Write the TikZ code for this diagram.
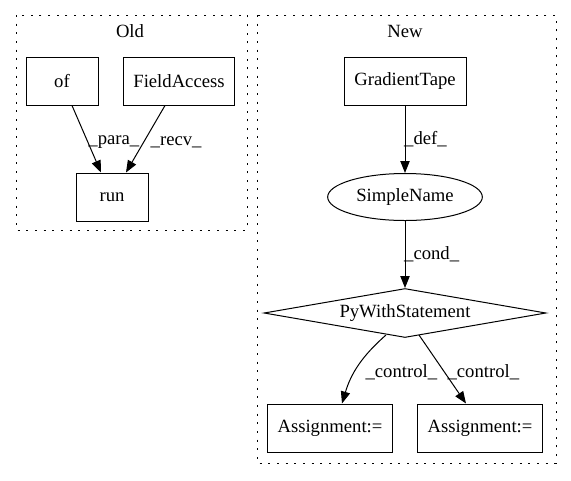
\documentclass[tikz,border=0pt]{standalone}
\usepackage{fontspec}
\setmainfont{Liberation Serif}
\usetikzlibrary{shapes.geometric,arrows.meta}
\begin{document}
\begin{tikzpicture}[x=0.75pt,y=-0.75pt,
  every node/.style={font=\fontsize{14}{16}\selectfont},
  box/.style={draw,line width=0.75pt,rectangle,minimum height=36pt,inner sep=0pt},
  ell/.style={draw,line width=0.75pt,ellipse,inner sep=0pt},
  dia/.style={draw,line width=0.75pt,diamond,inner sep=0pt},
  cluster/.style={draw,line width=0.75pt,dash pattern=on 1.5pt off 5pt},
  edge/.style={draw,line width=0.75pt,-{Triangle[length=9pt,width=7pt]}},
  lbl/.style={inner sep=1pt,anchor=west}]
\useasboundingbox (0,0) rectangle (571,480);
% clusters
\draw[cluster] (16,15) rectangle (247,230);
\node (oldlbl) at (130,31) {Old};
\draw[cluster] (257,15) rectangle (556,463);
\node (newlbl) at (405,31) {New};
% Old nodes
\node[box,minimum width=54pt] (of) at (62,81) {of};
\node[box,minimum width=83pt] (fa) at (179,81) {FieldAccess};
\node[box,minimum width=54pt] (run) at (112,197) {run};
\draw[edge] (of.south -| 72,0) -- (run.north -| 101,0) node[lbl,pos=0.55,xshift=-1pt] {\_para\_};
\draw[edge] (fa.south -| 165,0) -- (run.north -| 126,0) node[lbl,pos=0.55,xshift=4pt] {\_recv\_};
% New nodes
\node[box,minimum width=91.5pt] (gt) at (405,81) {GradientTape};
\node[ell,minimum width=116pt,minimum height=35.25pt] (sn) at (405,197) {SimpleName};
\node[dia,aspect=5.75,minimum width=211.5pt,minimum height=36.75pt] (pws) at (405,313) {PyWithStatement};
\node[box,minimum width=94pt] (a1) at (330,428) {Assignment:=};
\node[box,minimum width=94pt] (a2) at (480,428) {Assignment:=};
\draw[edge] (gt) -- (sn) node[lbl,pos=0.5,xshift=-2pt] {\_def\_};
\draw[edge] (sn) -- (pws) node[lbl,pos=0.5,xshift=-2pt] {\_cond\_};
\coordinate (p1) at (386,335);
\coordinate (p2) at (419,335);
\draw[edge] (p1) to[bend right=16] (a1.north -| 342,0);
\node[lbl] (c1) at (364,372) {\_control\_};
\draw[edge] (p2) -- (a2.north -| 466,0);
\node[lbl] (c2) at (446,372) {\_control\_};
\end{tikzpicture}
\end{document}
